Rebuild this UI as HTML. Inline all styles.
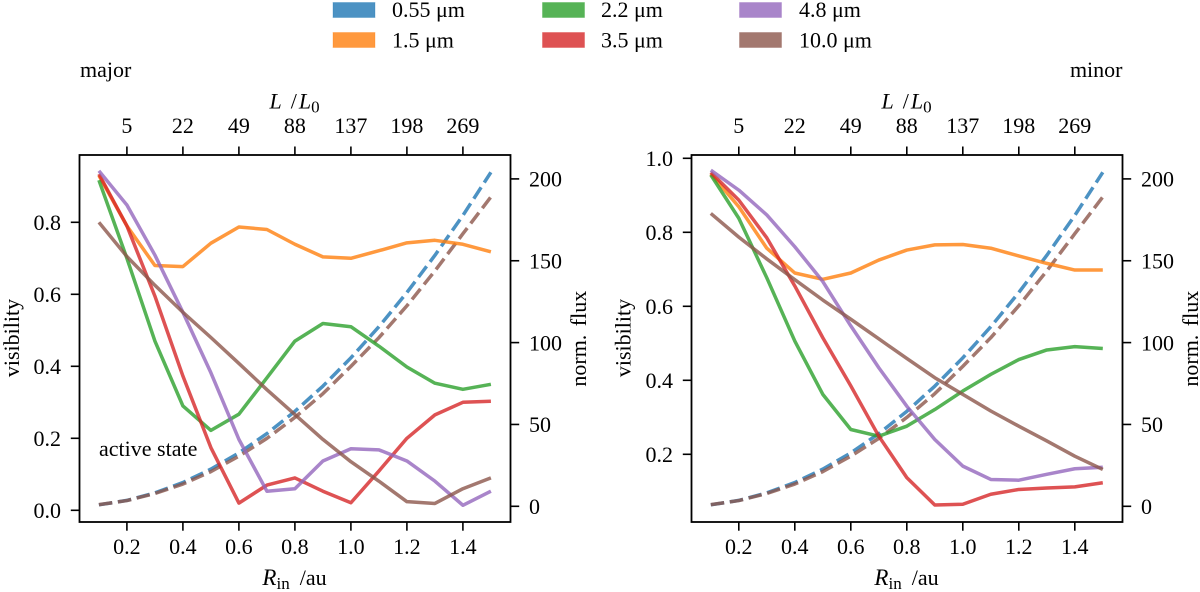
<!DOCTYPE html>
<html lang="en">
<head>
<meta charset="utf-8">
<title>Visibility and normalised flux versus inner radius</title>
<style>
html,body{margin:0;padding:0;background:#fff;width:1200px;height:592px;overflow:hidden}
svg{display:block}
text{font-family:"Liberation Serif","Times New Roman",serif;font-size:22px;fill:#000}
</style>
</head>
<body>
<svg id="chart" xmlns="http://www.w3.org/2000/svg" width="1200" height="592" viewBox="0 0 1200 592">
<rect x="0" y="0" width="1200" height="592" fill="#fff"/>
<g>
<g><rect x="333" y="2.5" width="42" height="15" fill="#1f77b4" fill-opacity="0.8" stroke="#1f77b4" stroke-opacity="0.3"/><text x="392" y="17">0.55 μm</text></g>
<g><rect x="333" y="32.5" width="42" height="15" fill="#ff7f0e" fill-opacity="0.8" stroke="#ff7f0e" stroke-opacity="0.3"/><text x="392" y="47.5">1.5 μm</text></g>
<g><rect x="542.5" y="2.5" width="42" height="15" fill="#2ca02c" fill-opacity="0.8" stroke="#2ca02c" stroke-opacity="0.3"/><text x="601" y="17">2.2 μm</text></g>
<g><rect x="542.5" y="32.5" width="42" height="15" fill="#d62728" fill-opacity="0.8" stroke="#d62728" stroke-opacity="0.3"/><text x="601" y="47.5">3.5 μm</text></g>
<g><rect x="739.5" y="2.5" width="42" height="15" fill="#9467bd" fill-opacity="0.8" stroke="#9467bd" stroke-opacity="0.3"/><text x="799" y="17">4.8 μm</text></g>
<g><rect x="739.5" y="32.5" width="42" height="15" fill="#8c564b" fill-opacity="0.8" stroke="#8c564b" stroke-opacity="0.3"/><text x="799" y="47.5">10.0 μm</text></g>
</g>
<text x="80" y="77">major</text>
<text x="1122.5" y="77" text-anchor="end">minor</text>
<text x="99" y="456">active state</text>
</svg>
<script>
// ---- data ----
const radius = [0.1,0.2,0.3,0.4,0.5,0.6,0.7,0.8,0.9,1.0,1.1,1.2,1.3,1.4,1.5];
const xTickValues = [0.2,0.4,0.6,0.8,1.0,1.2,1.4];
const topTickLabels = ["5","22","49","88","137","198","269"];
const visTicksMajor = [0.0,0.2,0.4,0.6,0.8];
const visTicksMinor = [0.2,0.4,0.6,0.8,1.0];
const fluxTicks = [0,50,100,150,200];

const fluxBlue = [0.9,3.6,8.2,14.5,22.7,32.6,44.4,58,73.4,90.7,109.7,130.6,153.3,177.7,204];
const fluxBrown = [1,3.5,7.8,13.6,21.2,30.6,41.5,54.3,68.8,85.5,103,122.5,143.8,166.5,189];

const majorOrange = [0.93,0.79,0.68,0.677,0.742,0.787,0.78,0.739,0.704,0.70,0.721,0.743,0.75,0.739,0.718];
const majorGreen = [0.917,0.70,0.47,0.29,0.222,0.267,0.368,0.47,0.519,0.51,0.456,0.398,0.353,0.336,0.35];
const majorRed = [0.934,0.79,0.595,0.373,0.174,0.02,0.07,0.09,0.053,0.021,0.109,0.2,0.265,0.30,0.303];
const majorPurple = [0.943,0.848,0.709,0.55,0.382,0.197,0.053,0.06,0.137,0.171,0.168,0.137,0.081,0.014,0.053];
const majorBrown = [0.80,0.705,0.625,0.55,0.48,0.408,0.335,0.266,0.197,0.135,0.081,0.024,0.019,0.06,0.09];

const minorOrange = [0.958,0.869,0.757,0.69,0.673,0.69,0.725,0.752,0.766,0.767,0.757,0.736,0.716,0.698,0.698];
const minorGreen = [0.955,0.838,0.677,0.506,0.362,0.267,0.249,0.276,0.321,0.371,0.416,0.456,0.482,0.491,0.486];
const minorRed = [0.962,0.887,0.785,0.655,0.515,0.385,0.249,0.137,0.063,0.065,0.092,0.105,0.109,0.112,0.123];
const minorPurple = [0.968,0.914,0.847,0.761,0.667,0.547,0.434,0.33,0.24,0.168,0.132,0.13,0.146,0.161,0.165];
const minorBrown = [0.851,0.787,0.728,0.672,0.617,0.565,0.512,0.459,0.407,0.362,0.317,0.276,0.236,0.195,0.159];

// ---- drawing ----
const NS = "http://www.w3.org/2000/svg";
const svg = document.getElementById("chart");
const TAB_BLUE = "#1f77b4", TAB_ORANGE = "#ff7f0e", TAB_GREEN = "#2ca02c", TAB_RED = "#d62728", TAB_PURPLE = "#9467bd", TAB_BROWN = "#8c564b";
const LINE_W = 3.5, DASH = "13.5,5.7", AXIS_COLOR = "#000";

function node(tag, attrs, parent, txt) {
  const el = document.createElementNS(NS, tag);
  for (const k in attrs) el.setAttribute(k, attrs[k]);
  if (txt !== undefined) el.textContent = txt;
  parent.appendChild(el);
  return el;
}

function drawPanel(p) {
  const xAt = v => p.x0 + (v - 0.2) * 280;
  const yVis = v => p.visZero - v * p.visScale;
  const yFlux = v => 506.3 - v * 1.637;
  const left = p.left, right = p.left + 431, top = 155, bottom = 522;

  const g = node("g", {}, svg);
  
  

  const clipId = p.name + "-clip";
  const defs = node("defs", {}, g);
  const clip = node("clipPath", {id: clipId}, defs);
  node("rect", {x: left, y: top, width: 431, height: bottom - top}, clip);
  const plot = node("g", {"clip-path": "url(#" + clipId + ")", fill: "none", "stroke-linejoin": "round"}, g);
  
  

  const pts = (vals, yf) => vals.map((v, i) => xAt(radius[i]).toFixed(2) + "," + yf(v).toFixed(2)).join(" ");

  const blueLine = node("polyline", {points: pts(fluxBlue, yFlux), stroke: TAB_BLUE, "stroke-opacity": 0.8, "stroke-width": LINE_W, "stroke-dasharray": DASH}, plot);
  
  
  const brownDash = node("polyline", {points: pts(fluxBrown, yFlux), stroke: TAB_BROWN, "stroke-opacity": 0.8, "stroke-width": LINE_W, "stroke-dasharray": DASH}, plot);
  
  

  p.series.forEach(s => {
    const line = node("polyline", {points: pts(s.vals, yVis), stroke: s.color, "stroke-opacity": 0.8, "stroke-width": LINE_W}, plot);
    
    
  });

  const frame = node("rect", {x: left, y: top, width: 431, height: bottom - top, fill: "none", stroke: AXIS_COLOR, "stroke-width": 1.8}, g);
  
  

  xTickValues.forEach((v, i) => {
    const x = xAt(v);
    const bt = node("line", {x1: x, x2: x, y1: bottom, y2: bottom + 8.7, stroke: AXIS_COLOR, "stroke-width": 1.6}, g);
    
    
    const bl = node("text", {x: x, y: 554, "text-anchor": "middle"}, g, v.toFixed(1));
    
    
    const tt = node("line", {x1: x, x2: x, y1: top, y2: top - 8.5, stroke: AXIS_COLOR, "stroke-width": 1.6}, g);
    
    
    const tl = node("text", {x: x, y: 133, "text-anchor": "middle"}, g, topTickLabels[i]);
    
    
  });

  p.visTicks.forEach(v => {
    const y = yVis(v);
    const t = node("line", {x1: left, x2: left - 8.7, y1: y, y2: y, stroke: AXIS_COLOR, "stroke-width": 1.6}, g);
    
    
    const l = node("text", {x: left - 18.5, y: y + 7.7, "text-anchor": "end"}, g, v.toFixed(1));
    
    
  });

  fluxTicks.forEach(v => {
    const y = yFlux(v);
    const t = node("line", {x1: right, x2: right + 8.7, y1: y, y2: y, stroke: AXIS_COLOR, "stroke-width": 1.6}, g);
    
    
    const l = node("text", {x: right + 18.5, y: y + 7.7}, g, String(v));
    
    
  });

  // bottom axis title
  const cx = left + 215;
  const xt = node("text", {x: cx, y: 585, "text-anchor": "middle"}, g);
  
  
  node("tspan", {"font-style": "italic", "font-size": "23"}, xt, "R");
  node("tspan", {dy: 4, "font-size": "17"}, xt, "in");
  node("tspan", {dy: -4, dx: 10}, xt, "/au");

  // top axis title
  const tt2 = node("text", {x: cx, y: 108.3, "text-anchor": "middle"}, g);
  
  
  node("tspan", {"font-style": "italic"}, tt2, "L");
  node("tspan", {dx: 9}, tt2, "/");
  node("tspan", {"font-style": "italic", dx: 2}, tt2, "L");
  node("tspan", {dy: 4, "font-size": "17"}, tt2, "0");

  const vt = node("text", {transform: "translate(" + p.visTitleX + ",338) rotate(-90)", "text-anchor": "middle"}, g, "visibility");
  
  
  const ft = node("text", {transform: "translate(" + (right + 75.5) + ",338.7) rotate(-90)", "text-anchor": "middle", "word-spacing": "3"}, g, "norm. flux");
  
  
}

drawPanel({
  name: "major", left: 79.5, x0: 126.9, visZero: 510.3, visScale: 360, visTicks: visTicksMajor, visTitleX: 19,
  series: [
    {key: "1-5um", color: TAB_ORANGE, vals: majorOrange},
    {key: "2-2um", color: TAB_GREEN, vals: majorGreen},
    {key: "3-5um", color: TAB_RED, vals: majorRed},
    {key: "4-8um", color: TAB_PURPLE, vals: majorPurple},
    {key: "10um", color: TAB_BROWN, vals: majorBrown}
  ]
});
drawPanel({
  name: "minor", left: 691.5, x0: 738.8, visZero: 528.3, visScale: 370, visTicks: visTicksMinor, visTitleX: 630.5,
  series: [
    {key: "1-5um", color: TAB_ORANGE, vals: minorOrange},
    {key: "2-2um", color: TAB_GREEN, vals: minorGreen},
    {key: "3-5um", color: TAB_RED, vals: minorRed},
    {key: "4-8um", color: TAB_PURPLE, vals: minorPurple},
    {key: "10um", color: TAB_BROWN, vals: minorBrown}
  ]
});
</script>
</body>
</html>
